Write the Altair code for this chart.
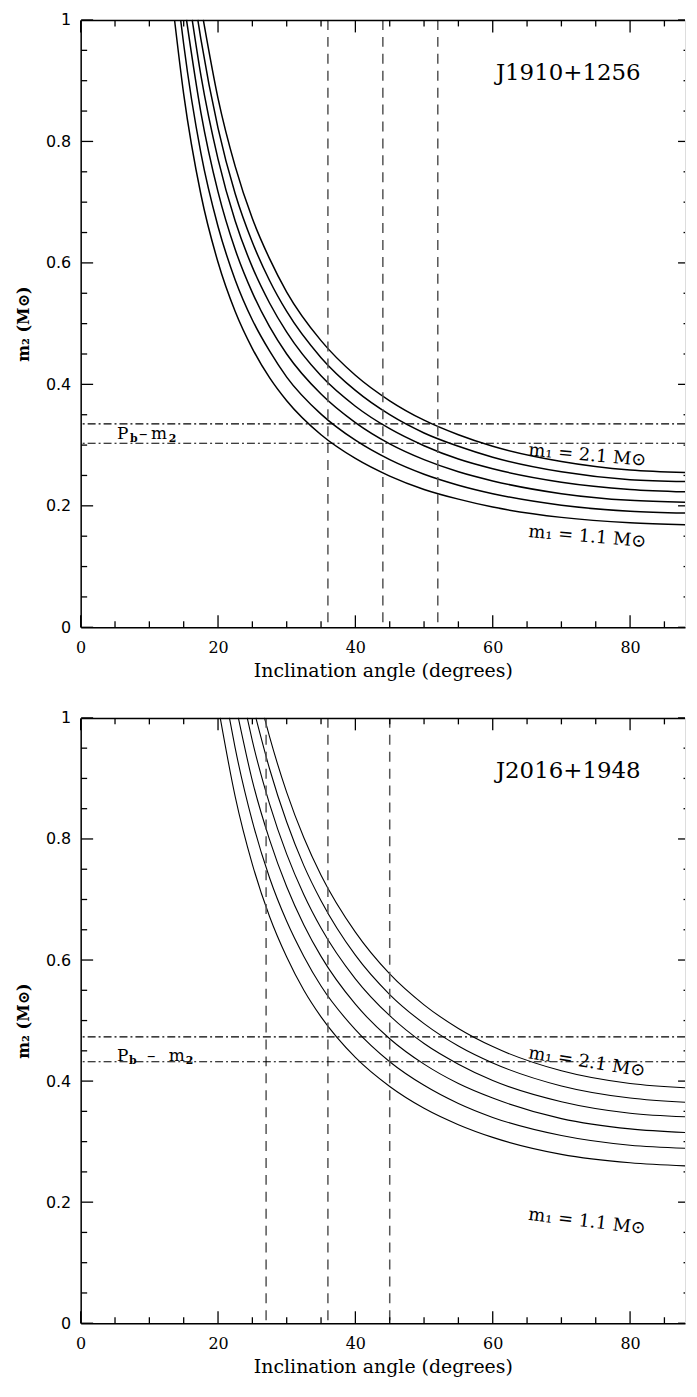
import altair as alt
import pandas as pd

# ---------------- data ----------------
M1_VALUES = ["1.1", "1.3", "1.5", "1.7", "1.9", "2.1"]

# J1910+1256 : inclination (deg) and companion mass m2 (Msun), one list per m1 curve
J1910_INC = [
    [13.67, 15, 17.5, 20, 22.5, 25, 27.5, 30, 35, 40, 45, 50, 55, 60, 70, 80, 88],
    [14.56, 15, 17.5, 20, 22.5, 25, 27.5, 30, 35, 40, 45, 50, 55, 60, 70, 80, 88],
    [15.41, 17.5, 20, 22.5, 25, 27.5, 30, 35, 40, 45, 50, 55, 60, 70, 80, 88],
    [16.24, 17.5, 20, 22.5, 25, 27.5, 30, 35, 40, 45, 50, 55, 60, 70, 80, 88],
    [17.06, 17.5, 20, 22.5, 25, 27.5, 30, 35, 40, 45, 50, 55, 60, 70, 80, 88],
    [17.86, 20, 22.5, 25, 27.5, 30, 35, 40, 45, 50, 55, 60, 70, 80, 88],
]
J1910_M2 = [
    [1.0, 0.878, 0.713, 0.601, 0.520, 0.459, 0.411, 0.373, 0.317, 0.278, 0.249, 0.227, 0.211, 0.198, 0.181, 0.172, 0.169],
    [1.0, 0.960, 0.781, 0.660, 0.572, 0.506, 0.455, 0.412, 0.351, 0.308, 0.276, 0.252, 0.234, 0.220, 0.201, 0.191, 0.188],
    [1.0, 0.848, 0.717, 0.622, 0.551, 0.495, 0.450, 0.384, 0.337, 0.302, 0.276, 0.256, 0.241, 0.220, 0.209, 0.206],
    [1.0, 0.909, 0.771, 0.669, 0.593, 0.534, 0.486, 0.414, 0.364, 0.327, 0.299, 0.277, 0.261, 0.239, 0.227, 0.223],
    [1.0, 0.969, 0.822, 0.714, 0.634, 0.571, 0.520, 0.444, 0.390, 0.350, 0.320, 0.298, 0.280, 0.256, 0.243, 0.240],
    [1.0, 0.871, 0.759, 0.673, 0.607, 0.552, 0.472, 0.415, 0.373, 0.341, 0.317, 0.298, 0.273, 0.259, 0.255],
]
J1910_VLINES = [36, 44, 52]
J1910_HLINES = [0.335, 0.303]

# J2016+1948
J2016_INC = [
    [20.32, 22.5, 25, 27.5, 30, 32.5, 35, 40, 45, 50, 55, 60, 70, 80, 88],
    [21.66, 22.5, 25, 27.5, 30, 32.5, 35, 40, 45, 50, 55, 60, 70, 80, 88],
    [22.96, 25, 27.5, 30, 32.5, 35, 40, 45, 50, 55, 60, 70, 80, 88],
    [24.25, 25, 27.5, 30, 32.5, 35, 40, 45, 50, 55, 60, 70, 80, 88],
    [25.51, 27.5, 30, 32.5, 35, 40, 45, 50, 55, 60, 70, 80, 88],
    [26.76, 27.5, 30, 32.5, 35, 40, 45, 50, 55, 60, 70, 80, 88],
]
J2016_M2 = [
    [1.0, 0.870, 0.758, 0.672, 0.605, 0.550, 0.506, 0.439, 0.391, 0.355, 0.328, 0.307, 0.279, 0.265, 0.260],
    [1.0, 0.950, 0.829, 0.736, 0.664, 0.606, 0.557, 0.485, 0.432, 0.393, 0.363, 0.340, 0.310, 0.294, 0.289],
    [1.0, 0.896, 0.799, 0.721, 0.658, 0.606, 0.527, 0.470, 0.428, 0.396, 0.372, 0.338, 0.321, 0.315],
    [1.0, 0.962, 0.858, 0.775, 0.708, 0.653, 0.569, 0.508, 0.462, 0.428, 0.401, 0.366, 0.347, 0.341],
    [1.0, 0.916, 0.828, 0.756, 0.698, 0.608, 0.543, 0.495, 0.458, 0.430, 0.392, 0.372, 0.365],
    [1.0, 0.969, 0.877, 0.802, 0.740, 0.646, 0.577, 0.526, 0.487, 0.457, 0.417, 0.396, 0.389],
]
J2016_VLINES = [27, 36, 45]
J2016_HLINES = [0.473, 0.432]

# axis ticks / labels
X_LABELS = [0, 20, 40, 60, 80]
X_MINOR = [5, 10, 15, 25, 30, 35, 45, 50, 55, 65, 70, 75, 85]
Y_LABELS = [0, 0.2, 0.4, 0.6, 0.8, 1.0]
Y_MINOR = [0.05, 0.1, 0.15, 0.25, 0.3, 0.35, 0.45, 0.5, 0.55, 0.65, 0.7, 0.75, 0.85, 0.9, 0.95]

# annotation texts and anchors (data coordinates)
NAMES = ["J1910+1256", "J2016+1948"]
NAME_POS = [(71.0, 0.912), (71.0, 0.913)]
PB_POS = [(5.3, 0.319), (5.3, 0.442)]
# pieces of "P_b - m_2": text, dx, dy, size
PB_PARTS = [
    [("P", 0, 0, 17), ("b", 13, 5, 11), ("–", 22, 0, 17), ("m", 34, 0, 17), ("2", 52, 5, 11)],
    [("P", 0, 0, 17), ("b", 12, 5, 11), ("–", 30, 0, 17), ("m", 52, 0, 17), ("2", 69, 5, 11)],
]
HI_LABEL = "m₁ = 2.1 M⊙"
LO_LABEL = "m₁  = 1.1 M⊙"
HI_POS = [(65.2, 0.291), (65.2, 0.446)]
LO_POS = [(65.2, 0.157), (65.2, 0.179)]
HI_ANGLE = [5, 9]
LO_ANGLE = [5, 7]

# ---------------- layout ----------------
W = 607
HEIGHTS = [610, 608]
XMAX = 88
SERIF = "DejaVu Serif"
SANS = "DejaVu Sans"

XS = alt.Scale(domain=[0, XMAX], nice=False, zero=False)
YS = alt.Scale(domain=[0, 1], nice=False, zero=False)

XAXIS = alt.Axis(
    values=X_LABELS, title="Inclination angle (degrees)", grid=False,
    ticks=False, tickSize=0, domain=True, domainColor="black", domainWidth=1.5,
    labelFont=SERIF, labelFontSize=16, labelColor="black", labelPadding=12,
    labelFlush=False, labelOverlap=False,
    titleFont=SERIF, titleFontSize=19, titleFontWeight="normal",
    titleColor="black", titlePadding=6,
)
YAXIS = alt.Axis(
    values=Y_LABELS, title="m₂ (M⊙)", grid=False,
    ticks=False, tickSize=0, domain=True, domainColor="black", domainWidth=1.5,
    labelExpr="datum.value == 0 ? '0' : (datum.value == 1 ? '1' : format(datum.value, '.1f'))",
    labelFont=SANS, labelFontSize=16, labelColor="black", labelPadding=10,
    labelFlush=False, labelOverlap=False,
    titleFont=SERIF, titleFontSize=16, titleFontWeight="bold",
    titleColor="black", titlePadding=14,
)


def X():
    return alt.X("x:Q", scale=XS, axis=XAXIS)


def Y():
    return alt.Y("y:Q", scale=YS, axis=YAXIS)


def panel(idx, incs, m2s, vlines, hlines, line_w):
    H = HEIGHTS[idx]
    rows = []
    for m1, xs, ys in zip(M1_VALUES, incs, m2s):
        for x, y in zip(xs, ys):
            rows.append({"x": x, "y": y, "m1": m1})
    curves_df = pd.DataFrame(rows)

    curves = alt.Chart(curves_df).mark_line(
        color="black", strokeWidth=line_w, interpolate="monotone"
    ).encode(x=X(), y=Y(), detail="m1:N")

    vl = alt.Chart(pd.DataFrame({"x": vlines})).mark_rule(
        color="#555555", strokeWidth=1.5, strokeDash=[10, 7]
    ).encode(x=X())

    hl = alt.Chart(pd.DataFrame({"y": hlines})).mark_rule(
        color="black", strokeWidth=1.1, strokeDash=[8, 3, 2, 3]
    ).encode(y=Y())

    xmaj = pd.DataFrame({"x": X_LABELS})
    xmin = pd.DataFrame({"x": X_MINOR})
    ymaj = pd.DataFrame({"y": Y_LABELS})
    ymin = pd.DataFrame({"y": Y_MINOR})
    tk = dict(color="black", strokeWidth=1.3)
    ticks = [
        alt.Chart(xmaj).mark_rule(**tk).encode(x=X(), y=alt.value(H), y2=alt.value(H - 12)),
        alt.Chart(xmin).mark_rule(**tk).encode(x=X(), y=alt.value(H), y2=alt.value(H - 6)),
        alt.Chart(xmaj).mark_rule(**tk).encode(x=X(), y=alt.value(0.5), y2=alt.value(12.5)),
        alt.Chart(xmin).mark_rule(**tk).encode(x=X(), y=alt.value(0.5), y2=alt.value(6.5)),
        alt.Chart(ymaj).mark_rule(**tk).encode(y=Y(), x=alt.value(0.5), x2=alt.value(12.5)),
        alt.Chart(ymin).mark_rule(**tk).encode(y=Y(), x=alt.value(0.5), x2=alt.value(6.5)),
        alt.Chart(ymaj).mark_rule(**tk).encode(y=Y(), x=alt.value(W), x2=alt.value(W - 7)),
        alt.Chart(ymin).mark_rule(**tk).encode(y=Y(), x=alt.value(W), x2=alt.value(W - 1.5)),
    ]
    top_frame = alt.Chart(pd.DataFrame({"x": [0]})).mark_rule(
        color="black", strokeWidth=1.5
    ).encode(x=alt.value(0.5), x2=alt.value(W), y=alt.value(0.5))

    nx, ny = NAME_POS[idx]
    name = alt.Chart(pd.DataFrame({"x": [nx], "y": [ny], "t": [NAMES[idx]]})).mark_text(
        font=SERIF, fontSize=23, color="black", align="center", baseline="middle"
    ).encode(x=X(), y=Y(), text="t:N")

    px, py = PB_POS[idx]
    pb = []
    for txt, dx, dy, size in PB_PARTS[idx]:
        pb.append(
            alt.Chart(pd.DataFrame({"x": [px], "y": [py], "t": [txt]})).mark_text(
                font=SERIF, fontSize=size, color="black", align="left",
                baseline="middle", dx=dx, dy=dy,
                fontWeight="bold" if size < 14 else "normal",
            ).encode(x=X(), y=Y(), text="t:N")
        )

    hx, hy = HI_POS[idx]
    lx, ly = LO_POS[idx]
    hi = alt.Chart(pd.DataFrame({"x": [hx], "y": [hy], "t": [HI_LABEL]})).mark_text(
        font=SERIF, fontSize=18, color="black", align="left", baseline="middle",
        angle=HI_ANGLE[idx]
    ).encode(x=X(), y=Y(), text="t:N")
    lo = alt.Chart(pd.DataFrame({"x": [lx], "y": [ly], "t": [LO_LABEL]})).mark_text(
        font=SERIF, fontSize=18, color="black", align="left", baseline="middle",
        angle=LO_ANGLE[idx]
    ).encode(x=X(), y=Y(), text="t:N")

    return alt.layer(curves, vl, hl, *ticks, top_frame, name, *pb, hi, lo).properties(
        width=W, height=H
    )


top = panel(0, J1910_INC, J1910_M2, J1910_VLINES, J1910_HLINES, 1.5)
bottom = panel(1, J2016_INC, J2016_M2, J2016_VLINES, J2016_HLINES, 1.1)

chart = alt.vconcat(top, bottom, spacing=28).properties(
    padding={"left": 7, "top": 0, "right": 0, "bottom": 0}
).configure_view(stroke=None).configure(background="white")

chart.save("out.html", embed_options={"renderer": "svg", "actions": False})
